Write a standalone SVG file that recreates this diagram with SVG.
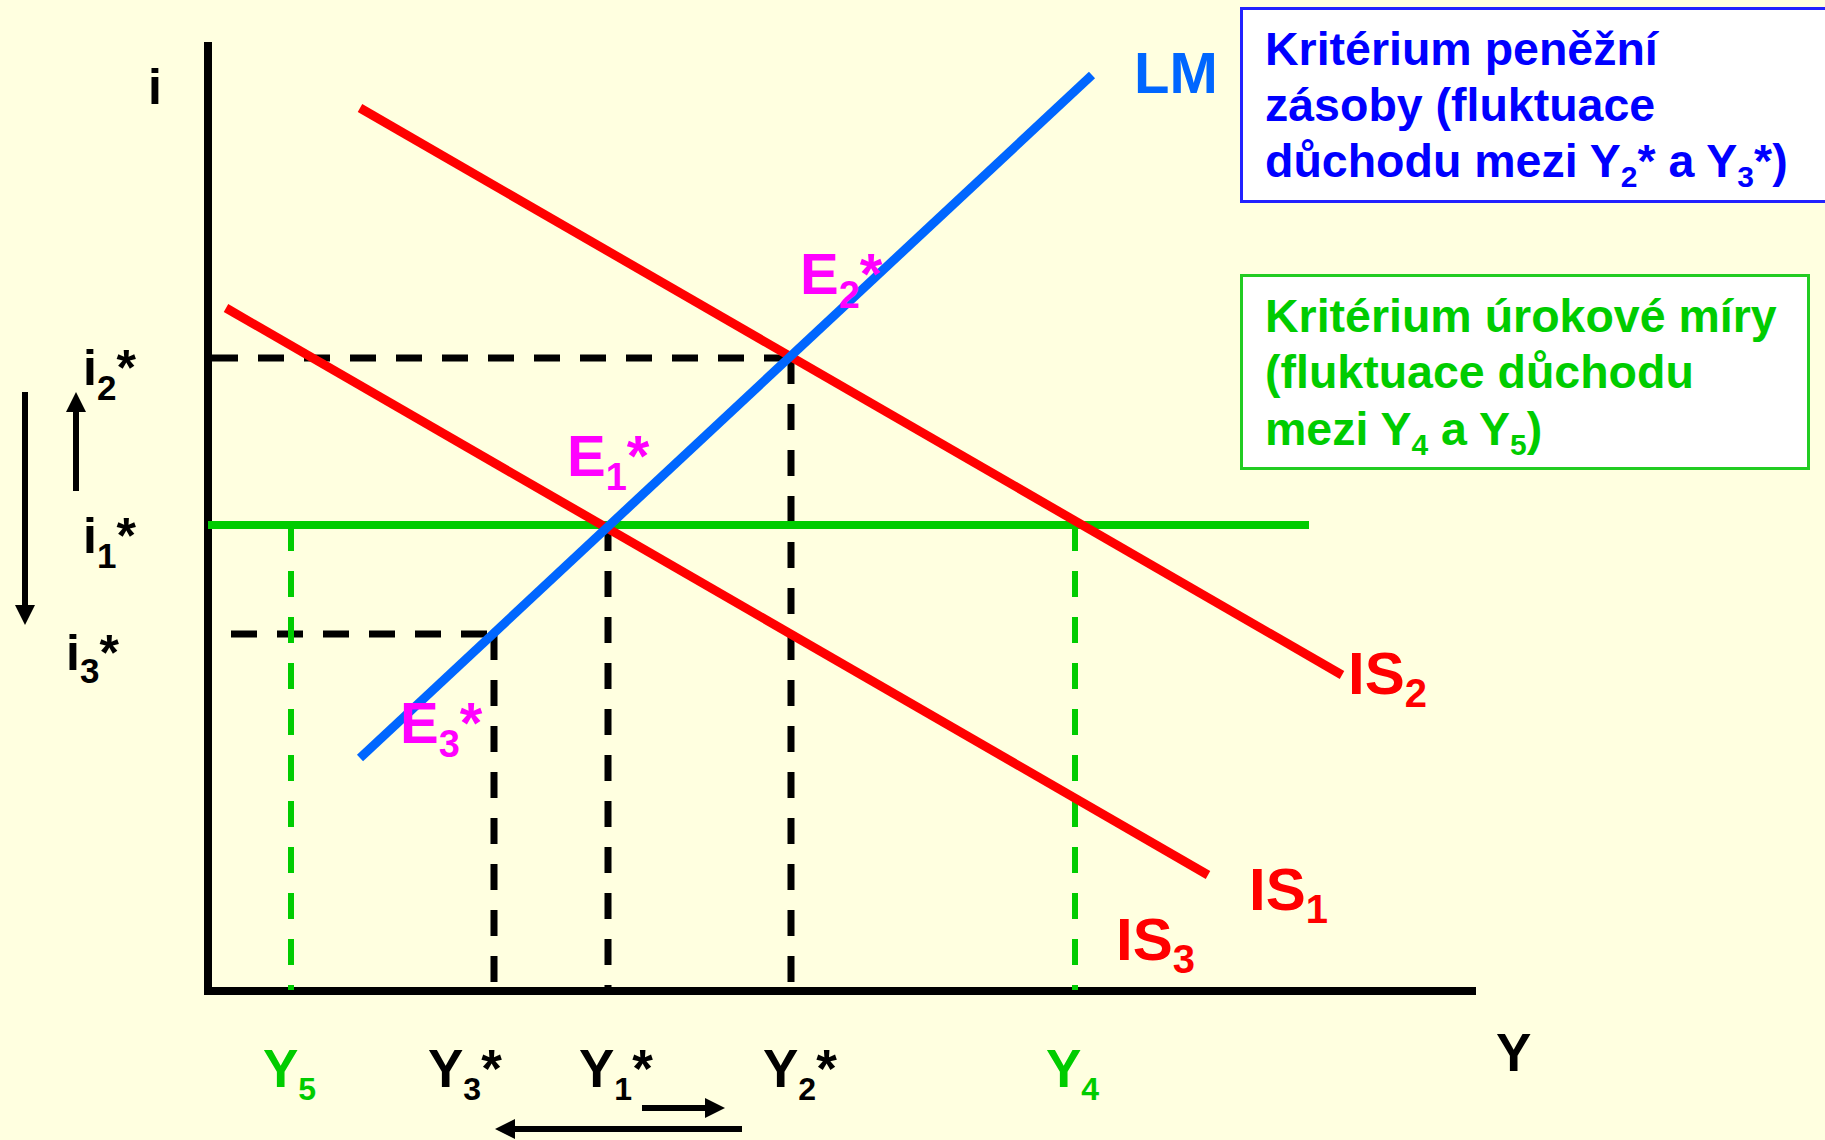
<svg xmlns="http://www.w3.org/2000/svg" width="1825" height="1140" viewBox="0 0 1825 1140">
<defs>
<style>
text{font-family:"Liberation Sans",Arial,sans-serif;font-weight:bold}
.ax{stroke:#000;stroke-width:8;fill:none}
.dk{stroke:#000;stroke-width:7;stroke-dasharray:26 20;fill:none}
.dg{stroke:#00CC00;stroke-width:6;stroke-dasharray:26 20;fill:none}
.is{stroke:#FF0000;stroke-width:9;fill:none}
.lm{stroke:#0066FF;stroke-width:9;fill:none}
.arr{stroke:#000;stroke-width:6;fill:none;marker-end:url(#ah)}
.red{fill:#FF0000;font-size:60px}
.mag{fill:#FF00FF;font-size:58px}
.lab{fill:#000;font-size:50px}
.ylab{font-size:53px}
.box1{fill:#0000FF;font-size:46.5px}
.box2{fill:#00CC00;font-size:46.5px}
</style>
<marker id="ah" viewBox="0 0 20 20" markerWidth="20" markerHeight="20" refX="0" refY="10" orient="auto" markerUnits="userSpaceOnUse">
<path d="M0,0 L20,10 L0,20 z" fill="#000"/>
</marker>
</defs>
<rect width="1825" height="1140" fill="#FFFFE0"/>

<g id="axes">
<line class="ax" x1="208" y1="42" x2="208" y2="995"/>
<line class="ax" x1="204" y1="991" x2="1476" y2="991"/>
</g>

<g id="connectors">
<line class="dk" x1="212" y1="358" x2="791" y2="358"/>
<line class="dk" x1="791" y1="358" x2="791" y2="987"/>
<line class="dk" x1="231" y1="634" x2="494" y2="634"/>
<line class="dk" x1="494" y1="634" x2="494" y2="987"/>
<line class="dk" x1="608" y1="525" x2="608" y2="987"/>
<line class="dg" x1="291" y1="525" x2="291" y2="990"/>
<line class="dg" x1="1075" y1="525" x2="1075" y2="990"/>
<line stroke="#00CC00" stroke-width="8" x1="208" y1="525" x2="1309" y2="525"/>
<line class="is" x1="360" y1="108" x2="1342" y2="675"/>
<line class="is" x1="226" y1="308" x2="1208" y2="875"/>
<line class="lm" x1="360" y1="758" x2="1092" y2="75"/>
<line class="arr" x1="25" y1="392" x2="25" y2="605"/>
<line class="arr" x1="76" y1="491" x2="76" y2="412"/>
<line class="arr" x1="642" y1="1108" x2="705" y2="1108"/>
<line class="arr" x1="742" y1="1129" x2="515" y2="1129"/>
</g>

<g id="curve-labels">
<text x="1134" y="93" fill="#0066FF" font-size="58">LM</text>
<text class="red" x="1348" y="694">IS<tspan font-size="40" dy="13">2</tspan></text>
<text class="red" x="1249" y="910">IS<tspan font-size="40" dy="13">1</tspan></text>
<text class="red" x="1116" y="960">IS<tspan font-size="40" dy="13">3</tspan></text>
</g>

<g id="equilibria">
<text class="mag" x="800" y="294">E<tspan font-size="38" dy="14">2</tspan><tspan dy="-14">*</tspan></text>
<text class="mag" x="567" y="476">E<tspan font-size="38" dy="14">1</tspan><tspan dy="-14">*</tspan></text>
<text class="mag" x="400" y="743">E<tspan font-size="38" dy="14">3</tspan><tspan dy="-14">*</tspan></text>
</g>

<g id="i-labels">
<text class="lab" x="148" y="104">i</text>
<text class="lab" x="83" y="385">i<tspan font-size="35" dy="15">2</tspan><tspan dy="-15">*</tspan></text>
<text class="lab" x="83" y="553">i<tspan font-size="35" dy="15">1</tspan><tspan dy="-15">*</tspan></text>
<text class="lab" x="66" y="670">i<tspan font-size="35" dy="13">3</tspan><tspan dy="-13">*</tspan></text>
</g>

<g id="y-labels">
<text class="ylab" x="263" y="1087" fill="#00CC00">Y<tspan font-size="32" dy="13">5</tspan></text>
<text class="ylab" x="428" y="1087" fill="#000">Y<tspan font-size="32" dy="13">3</tspan><tspan dy="-13">*</tspan></text>
<text class="ylab" x="579" y="1087" fill="#000">Y<tspan font-size="32" dy="13">1</tspan><tspan dy="-13">*</tspan></text>
<text class="ylab" x="763" y="1087" fill="#000">Y<tspan font-size="32" dy="13">2</tspan><tspan dy="-13">*</tspan></text>
<text class="ylab" x="1046" y="1087" fill="#00CC00">Y<tspan font-size="32" dy="13">4</tspan></text>
<text class="ylab" x="1496" y="1071" fill="#000">Y</text>
</g>

<g id="box-money">
<rect x="1241.5" y="8.5" width="590" height="193" fill="#FFFFFF" stroke="#2222FF" stroke-width="3"/>
<text class="box1" x="1265" y="65">Kritérium peněžní</text>
<text class="box1" x="1265" y="121">zásoby (fluktuace</text>
<text class="box1" x="1265" y="177">důchodu mezi Y<tspan font-size="30" dy="10">2</tspan><tspan dy="-10">* a Y</tspan><tspan font-size="30" dy="10">3</tspan><tspan dy="-10">*)</tspan></text>
</g>

<g id="box-interest">
<rect x="1241.5" y="275.5" width="567" height="193" fill="#FFFFFF" stroke="#22CC22" stroke-width="3"/>
<text class="box2" x="1265" y="332">Kritérium úrokové míry</text>
<text class="box2" x="1265" y="388">(fluktuace důchodu</text>
<text class="box2" x="1265" y="445">mezi Y<tspan font-size="30" dy="10">4</tspan><tspan dy="-10"> a Y</tspan><tspan font-size="30" dy="10">5</tspan><tspan dy="-10">)</tspan></text>
</g>
</svg>
